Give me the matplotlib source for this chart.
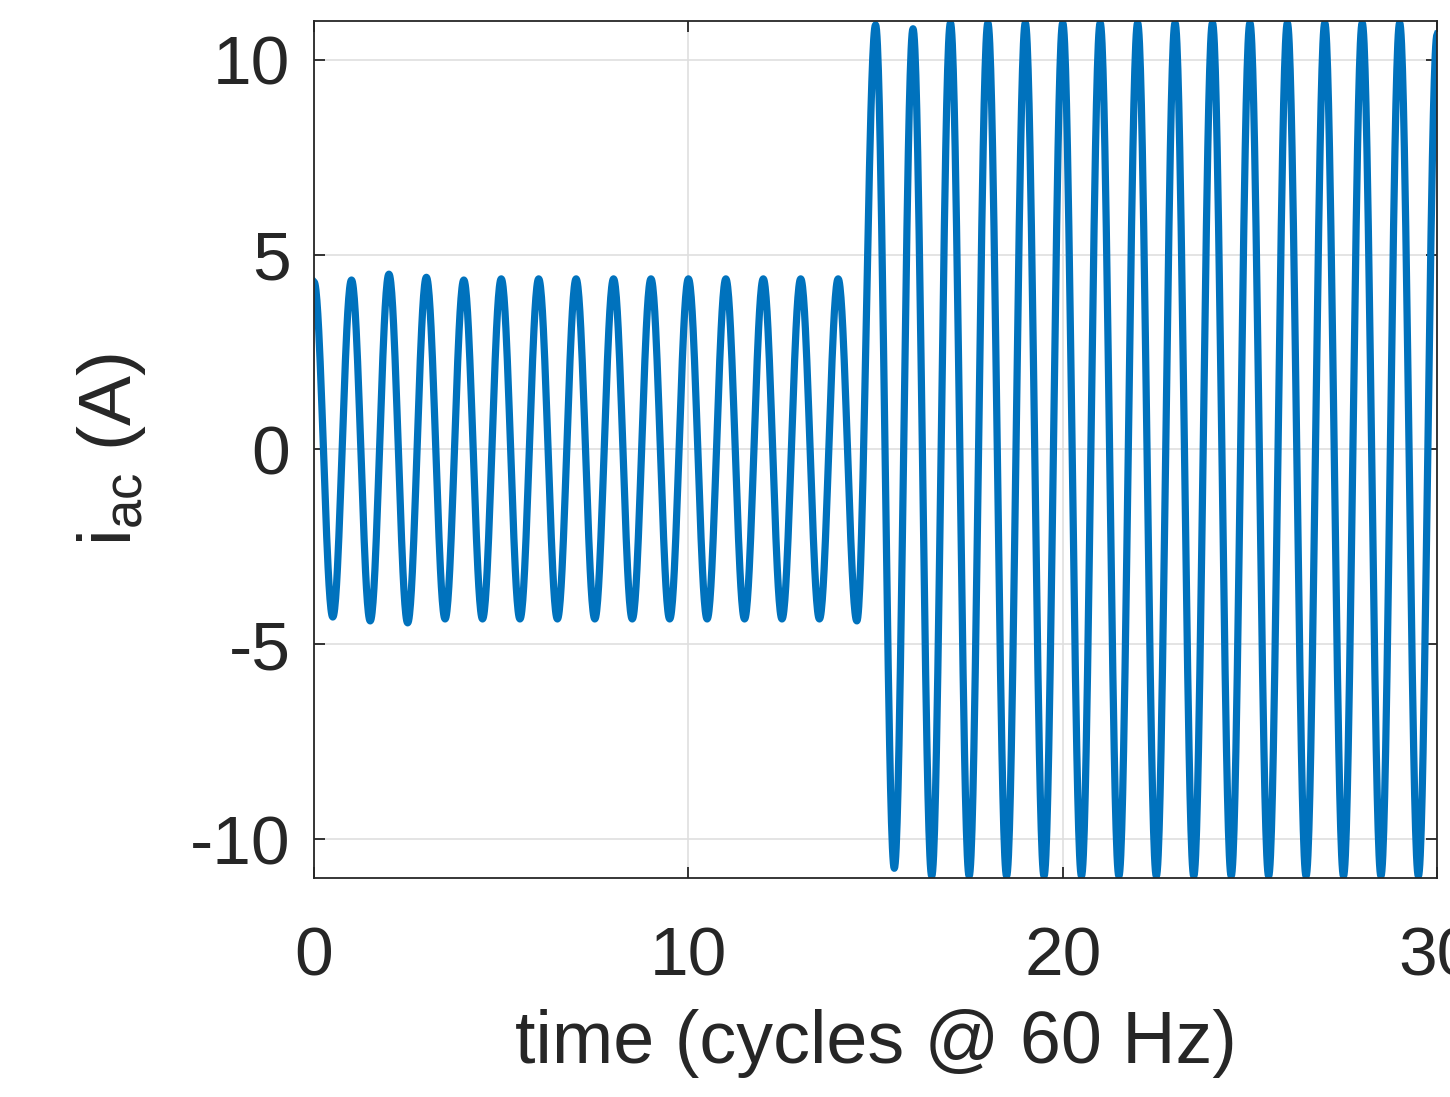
import numpy as np
import matplotlib
matplotlib.use("Agg")
import matplotlib.pyplot as plt

plt.rcParams["font.family"] = ["Liberation Sans", "DejaVu Sans"]
plt.rcParams["mathtext.fontset"] = "custom"
plt.rcParams["mathtext.rm"] = "Liberation Sans"
plt.rcParams["mathtext.default"] = "regular"
plt.rcParams["axes.unicode_minus"] = False

# half-cycle extremes of the current (time in cycles, value in A)
extreme_cycles = [0.0, 0.5, 1.0, 1.5, 2.0, 2.5, 3.0, 3.5, 4.0, 4.5,
                  5.0, 5.5, 6.0, 6.5, 7.0, 7.5, 8.0, 8.5, 9.0, 9.5,
                  10.0, 10.5, 11.0, 11.5, 12.0, 12.5, 13.0, 13.5, 14.0, 14.5,
                  15.0, 15.5, 16.0, 16.5, 17.0, 17.5, 18.0, 18.5, 19.0, 19.5,
                  20.0, 20.5, 21.0, 21.5, 22.0, 22.5, 23.0, 23.5, 24.0, 24.5,
                  25.0, 25.5, 26.0, 26.5, 27.0, 27.5, 28.0, 28.5, 29.0, 29.5,
                  30.0]
extreme_values = [4.3, -4.3, 4.35, -4.4, 4.5, -4.45, 4.42, -4.35, 4.35, -4.35,
                  4.38, -4.35, 4.38, -4.35, 4.38, -4.35, 4.38, -4.35, 4.38, -4.35,
                  4.38, -4.35, 4.38, -4.35, 4.38, -4.35, 4.38, -4.35, 4.38, -4.4,
                  10.9, -10.75, 10.8, -10.95, 10.95, -10.95, 10.95, -10.95, 10.95, -10.95,
                  10.95, -10.95, 10.95, -10.95, 10.95, -10.95, 10.95, -10.95, 10.95, -10.95,
                  10.95, -10.95, 10.95, -10.95, 10.95, -10.95, 10.95, -10.95, 10.95, -10.95,
                  10.65]

x_ticks = [0, 10, 20, 30]
y_ticks = [-10, -5, 0, 5, 10]

# sinusoidal shape between successive extremes (60 Hz waveform)
t_all = []
i_all = []
for k in range(len(extreme_cycles) - 1):
    t0, t1 = extreme_cycles[k], extreme_cycles[k + 1]
    v0, v1 = extreme_values[k], extreme_values[k + 1]
    s = np.linspace(0, 1, 40, endpoint=False)
    t_all.extend(t0 + (t1 - t0) * s)
    i_all.extend(v0 + (v1 - v0) * (1 - np.cos(np.pi * s)) / 2)
t_all.append(extreme_cycles[-1])
i_all.append(extreme_values[-1])

fig = plt.figure(figsize=(14.5, 10.97), dpi=100)
ax = fig.add_axes([0.2166, 0.1996, 0.7745, 0.7813])

ax.plot(t_all, i_all, color="#0072BD", lw=5.2, solid_joinstyle="round")

ax.set_xlim(0, 30)
ax.set_ylim(-11, 11)
ax.set_xticks(x_ticks)
ax.set_yticks(y_ticks)
ax.grid(True, color="#dfdfdf", lw=1.2)
ax.set_axisbelow(True)

dark = "#262626"
for sp in ax.spines.values():
    sp.set_color(dark)
    sp.set_linewidth(1.3)
ax.tick_params(direction="in", length=8, width=1.3, colors=dark,
               labelsize=50, top=True, right=True)
ax.tick_params(axis="x", pad=34)
ax.tick_params(axis="y", pad=17)

ax.set_xlabel("time (cycles @ 60 Hz)", fontsize=53, color=dark, labelpad=14)
ax.set_ylabel("i$_{ac}$ (A)", fontsize=54, color=dark, labelpad=30)

fig.savefig("out.png", dpi=100)
